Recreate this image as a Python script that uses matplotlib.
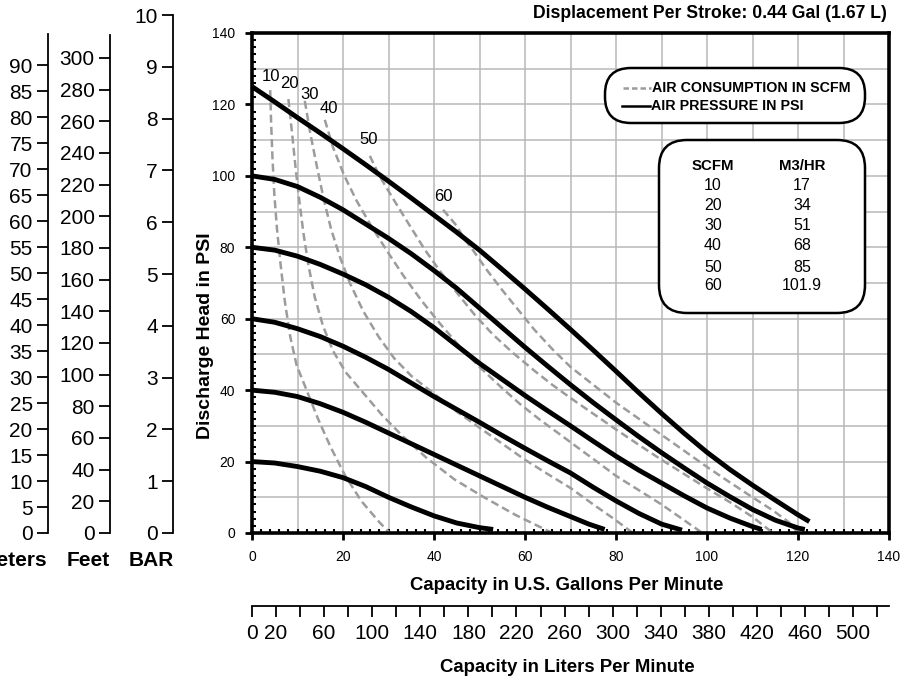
import matplotlib
matplotlib.use("Agg")
import matplotlib.pyplot as plt
import matplotlib.ticker as ticker
from matplotlib import font_manager
from matplotlib.patches import FancyBboxPatch

names = {f.name for f in font_manager.fontManager.ttflist}
NARROW = "Liberation Sans Narrow" if "Liberation Sans Narrow" in names else "Liberation Sans"
REG = "Liberation Sans"

# ---- data: air pressure curves (gpm, psi) ----
p20_gpm = [0, 5, 10, 15, 20, 25, 30, 35, 40, 45, 50, 53]
p20_psi = [20, 19.6, 18.6, 17.3, 15.5, 13, 10, 7.3, 4.8, 2.8, 1.5, 1.0]
p40_gpm = [0, 5, 10, 15, 20, 25, 30, 35, 40, 45, 50, 55, 60, 65, 70, 74, 77.5]
p40_psi = [40, 39.4, 38.2, 36.2, 33.8, 31, 28, 25, 22, 19, 16, 13, 10, 7.2, 4.6, 2.5, 1.0]
p60_gpm = [0, 5, 10, 15, 20, 25, 30, 35, 40, 45, 50, 55, 60, 65, 70, 75, 80, 85, 90, 94.5]
p60_psi = [60, 59, 57.2, 55, 52.3, 49.2, 45.8, 42, 38.2, 34.6, 31, 27.3, 23.7, 20.2, 16.8, 12.8, 9.0, 5.5, 2.5, 0.8]
p80_gpm = [0, 5, 10, 15, 20, 25, 30, 35, 40, 45, 50, 55, 60, 65, 70, 75, 80, 85, 90, 95, 100, 105, 110, 112]
p80_psi = [80, 79.2, 77.5, 75.2, 72.5, 69.5, 66, 62, 57.5, 52.5, 47.5, 43, 38.5, 34.2, 30, 25.7, 21.5, 17.6,
           14, 10.4, 7, 4.2, 1.8, 1.0]
p100_gpm = [0, 5, 10, 15, 20, 25, 30, 35, 40, 45, 50, 55, 60, 65, 70, 75, 80, 85, 90, 95, 100, 105, 110,
            115, 120, 121.5]
p100_psi = [100, 99, 97, 94, 90.5, 86.5, 82.5, 78.2, 73.5, 68.5, 63, 57.5, 52, 46.7, 41.5, 36.5, 31.7, 27,
            22.5, 18.2, 14, 10.2, 6.6, 3.6, 1.4, 1.0]
p125_gpm = [0, 5, 10, 15, 20, 25, 30, 35, 40, 45, 50, 55, 60, 65, 70, 75, 80, 85, 90, 95, 100, 105, 110,
            115, 120, 122.5]
p125_psi = [125, 120.7, 116.3, 112, 107.6, 103.1, 98.5, 93.8, 89, 84.2, 79.2, 73.8, 68.3, 62.7, 57, 51.2,
            45.3, 39.3, 33.5, 27.9, 22.6, 17.8, 13.4, 9.2, 5.1, 3.2]

# ---- data: air consumption curves (SCFM) ----
s10_gpm = [4.0, 4.2, 4.5, 4.9, 5.5, 6.3, 7.2, 8.4, 9.8, 12.0, 14.5, 17.3, 20.5, 24.0, 28.0, 30.3]
s10_psi = [124, 115, 105, 95, 85, 75, 65, 55, 47, 40, 32, 24, 16, 9, 3, 0]
s20_gpm = [8.0, 8.8, 9.6, 10.4, 11.3, 12.4, 13.8, 15.6, 17.8, 20.6, 24.6, 28.6, 33.2, 38.4, 44.5, 51.0,
           58.0, 66.0]
s20_psi = [121.5, 112, 102, 93, 84, 75, 66, 58, 51, 45, 39, 33, 27, 21, 15, 10, 5, 0]
s30_gpm = [11.6, 12.8, 14.2, 15.8, 17.4, 19.4, 21.5, 24.5, 27.8, 31.2, 35.0, 39.5, 45, 50, 55, 60, 65, 70,
           75, 79.5, 83.7]
s30_psi = [121, 112, 103, 93.3, 85, 77, 70, 62, 55, 49, 44, 39.5, 34, 29.5, 25, 20.5, 16.5, 12.6, 8, 4, 0]
s40_gpm = [16.0, 17.8, 20.3, 23.0, 26.2, 29.5, 33.3, 37.3, 41.4, 45.8, 50.0, 54.6, 59.0, 63.5, 67.8, 71.5,
           75.8, 80.0, 85.0, 90.0, 94.5, 99.0]
s40_psi = [115.7, 108, 100, 93, 86, 79.3, 72, 65, 58.5, 52, 46.5, 41, 36, 31.5, 27.5, 24, 20, 16, 12, 8, 4, 0]
s50_gpm = [25.9, 28.0, 31.3, 34.7, 38.0, 41.5, 45.2, 49.0, 53.0, 57.3, 62.0, 66.0, 70.0, 75.0, 80.0, 85.0,
           90.0, 95.0, 100.0, 105.2, 110.0, 114.5]
s50_psi = [105.6, 100, 93, 86, 79.3, 73, 67, 61, 55.5, 50.5, 45.5, 41.5, 37.8, 33.4, 29, 24.7, 20.5, 16.5,
           12.5, 8.5, 4.5, 0]
s60_gpm = [42, 45, 46.6, 48.5, 51.7, 55, 58.5, 62, 66, 70, 75, 80, 85, 90, 95, 100, 105, 110, 114.5, 118, 120]
s60_psi = [90.5, 86, 82.5, 79.3, 73.5, 68, 62.5, 57, 51.5, 46.5, 41.5, 36.5, 32, 27.5, 23, 18.5, 14.2, 10,
           6.3, 3, 0]

scfm_names = ["10", "20", "30", "40", "50", "60"]
scfm_label_gpm = [4.1, 8.2, 12.7, 16.8, 25.7, 42.0]
scfm_label_psi = [127.7, 126.0, 122.9, 118.8, 110.3, 94.2]

table_scfm = ["10", "20", "30", "40", "50", "60"]
table_m3hr = ["17", "34", "51", "68", "85", "101.9"]

liters_ticks = list(range(0, 521, 20))
liters_labels = [0, 20] + list(range(60, 501, 40))

pressure = [(p20_gpm, p20_psi), (p40_gpm, p40_psi), (p60_gpm, p60_psi),
            (p80_gpm, p80_psi), (p100_gpm, p100_psi), (p125_gpm, p125_psi)]
scfm = [(s10_gpm, s10_psi), (s20_gpm, s20_psi), (s30_gpm, s30_psi),
        (s40_gpm, s40_psi), (s50_gpm, s50_psi), (s60_gpm, s60_psi)]

W, H = 913, 683
fig = plt.figure(figsize=(W / 100, H / 100), dpi=100)


def fb(x0, y0, x1, y1):
    # pixel box (top-left origin) -> figure fraction
    return [x0 / W, (H - y1) / H, (x1 - x0) / W, (y1 - y0) / H]


GRAY = "#9c9c9c"

# ==== main chart ====
ax = fig.add_axes(fb(252, 33, 889, 533))
for v in range(10, 140, 10):
    ax.axvline(v, color="#b8b8b8", lw=1.1, zorder=0)
    ax.axhline(v, color="#b8b8b8", lw=1.1, zorder=0)

for g, p in scfm:
    ax.plot(g, p, color=GRAY, lw=1.8, ls=(0, (3.2, 1.7)), dash_capstyle="butt", zorder=2)
for g, p in pressure:
    ax.plot(g, p, color="black", lw=3.5, solid_capstyle="butt", solid_joinstyle="round", zorder=3)

for name, gx, py in zip(scfm_names, scfm_label_gpm, scfm_label_psi):
    ax.text(gx, py, name, fontsize=12, family=NARROW, ha="center", va="center")

ax.set_xlim(0, 140)
ax.set_ylim(0, 140)
ax.xaxis.set_major_locator(ticker.MultipleLocator(20))
ax.yaxis.set_major_locator(ticker.MultipleLocator(20))
ax.xaxis.set_minor_locator(ticker.MultipleLocator(2))
ax.yaxis.set_minor_locator(ticker.MultipleLocator(2))
ax.tick_params(which="major", direction="out", length=5, width=2, labelsize=10, pad=7)
ax.tick_params(which="minor", direction="in", length=3, width=1.5)
for lbl in ax.get_xticklabels() + ax.get_yticklabels():
    lbl.set_family(REG)
for s in ax.spines.values():
    s.set_linewidth(2.6)

# ==== left unit scales ====
def side_axis(x, top, ymax, ticks):
    a = fig.add_axes(fb(x, top, x + 1, 533))
    a.set_ylim(0, ymax)
    a.set_xlim(0, 1)
    for s in ["top", "right", "bottom"]:
        a.spines[s].set_visible(False)
    a.spines["left"].set_linewidth(1.3)
    a.set_xticks([])
    a.set_yticks(ticks)
    a.tick_params(axis="y", direction="out", length=8, width=1.3, labelsize=15, pad=3)
    for lbl in a.get_yticklabels():
        lbl.set_family(NARROW)
    a.patch.set_visible(False)
    return a

side_axis(48, 34, 96, list(range(0, 91, 5)))
side_axis(110, 35, 314.5, list(range(0, 301, 20)))
side_axis(173, 15, 10, list(range(0, 11)))

# ==== liters scale ====
la = fig.add_axes(fb(252, 605, 889, 606))
la.set_xlim(0, 140 * 3.785)
la.set_ylim(0, 1)
for s in ["top", "right", "left"]:
    la.spines[s].set_visible(False)
la.spines["bottom"].set_linewidth(1.3)
la.set_yticks([])
la.set_xticks(liters_ticks)
la.set_xticklabels([str(t) if t in liters_labels else "" for t in liters_ticks])
la.tick_params(axis="x", direction="out", length=8, width=1.3, labelsize=15, pad=5)
for lbl in la.get_xticklabels():
    lbl.set_family(NARROW)
la.patch.set_visible(False)

# ==== overlay in pixel coordinates for texts and boxes ====
ov = fig.add_axes([0, 0, 1, 1])
ov.set_xlim(0, W)
ov.set_ylim(H, 0)
ov.axis("off")
ov.patch.set_visible(False)

bold = dict(family=NARROW, fontweight="bold", color="black")
ov.text(887, 14, "Displacement Per Stroke: 0.44 Gal (1.67 L)", ha="right", va="center", fontsize=12.7, **bold)
ov.text(205, 336, "Discharge Head in PSI", rotation=90, ha="center", va="center", fontsize=14, **bold)
ov.text(567, 585, "Capacity in U.S. Gallons Per Minute", ha="center", va="center", fontsize=13.4, **bold)
ov.text(567, 668, "Capacity in Liters Per Minute", ha="center", va="center", fontsize=13.4, **bold)
ov.text(47, 560, "Meters", ha="right", va="center", fontsize=15, **bold)
ov.text(110, 560, "Feet", ha="right", va="center", fontsize=15, **bold)
ov.text(174, 560, "BAR", ha="right", va="center", fontsize=15, **bold)

# legend box
ov.add_patch(FancyBboxPatch((605, 68), 260, 55, boxstyle="round,pad=0,rounding_size=26",
                            fc="white", ec="black", lw=1.8))
ov.plot([623, 651], [88, 88], color=GRAY, lw=1.8, ls=(0, (2.2, 1.2)))
ov.plot([622, 650], [106, 106], color="black", lw=1.8)
ov.text(652, 88, "AIR CONSUMPTION IN SCFM", ha="left", va="center", fontsize=10.3, **bold)
ov.text(651, 106, "AIR PRESSURE IN PSI", ha="left", va="center", fontsize=10.3, **bold)

# SCFM / M3/HR table
ov.add_patch(FancyBboxPatch((659, 140), 206, 173, boxstyle="round,pad=0,rounding_size=28",
                            fc="white", ec="black", lw=1.8))
ov.text(713, 166, "SCFM", ha="center", va="center", fontsize=10.8, **bold)
ov.text(802, 166, "M3/HR", ha="center", va="center", fontsize=10.8, **bold)
row_y = [185, 206, 226, 246, 267, 286]
for yy, a_, b_ in zip(row_y, table_scfm, table_m3hr):
    ov.text(713, yy, a_, ha="center", va="center", fontsize=11.5, family=NARROW)
    ov.text(802, yy, b_, ha="center", va="center", fontsize=11.5, family=NARROW)

fig.savefig("out.png", dpi=100)
